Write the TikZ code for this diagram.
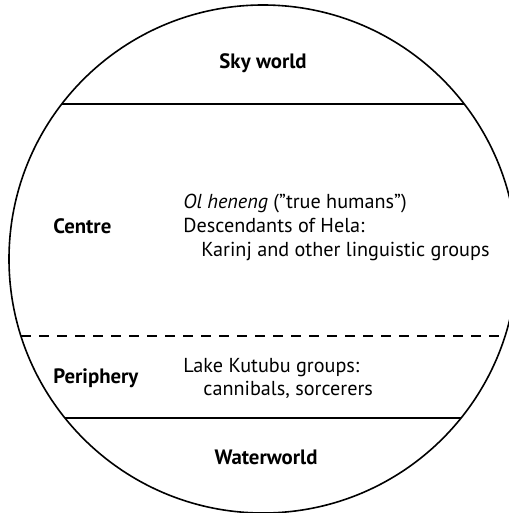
\documentclass[tikz,border=0pt]{standalone}
\usepackage{fontspec}
\setmainfont{PT Sans}
\usetikzlibrary{positioning}

\tikzset{
	world/.style={font=\fontsize{10.4}{12}\bfseries,inner sep=0pt},
	txt/.style={anchor=base west,inner sep=0pt},
	zoneline/.style={line width=0.8pt},
}

\begin{document}
\begin{tikzpicture}[x=0.5pt,y=-0.5pt,font=\fontsize{10.1}{12}\selectfont]
	\useasboundingbox (0,0) rectangle (508,513);
	\draw[zoneline] (263,259) circle[radius=127pt];
	
	% boundaries between the worlds
	\coordinate (skyL) at (62,104);
	\coordinate (skyR) at (464,104);
	\coordinate (perL) at (21,336);
	\coordinate (perR) at (505,336);
	\coordinate (watL) at (65,418);
	\coordinate (watR) at (461,418);
	\draw[zoneline] (skyL) -- (skyR);
	\draw[zoneline,dash pattern=on 5pt off 4pt] (perL) -- (perR);
	\draw[zoneline] (watL) -- (watR);
	
	\node[world,anchor=base] (sky) at (263,69) {Sky world};
	\node[world,anchor=base west] (centre) at (53,233) {Centre};
	\node[world,anchor=base west] (periphery) at (53,383) {Periphery};
	\node[world,anchor=base] (water) at (266,464) {Waterworld};
	
	\node[txt] (ol) at (183,208) {\textit{Ol heneng} (''true humans'')};
	\node[txt] (hela) at (183,232) {Descendants of Hela:};
	\node[txt] (karinj) at (201,256) {Karinj and other linguistic groups};
	\node[txt] (kutubu) at (183,372) {Lake Kutubu groups:};
	\node[txt] (cannibals) at (203,395) {cannibals, sorcerers};
\end{tikzpicture}
\end{document}
